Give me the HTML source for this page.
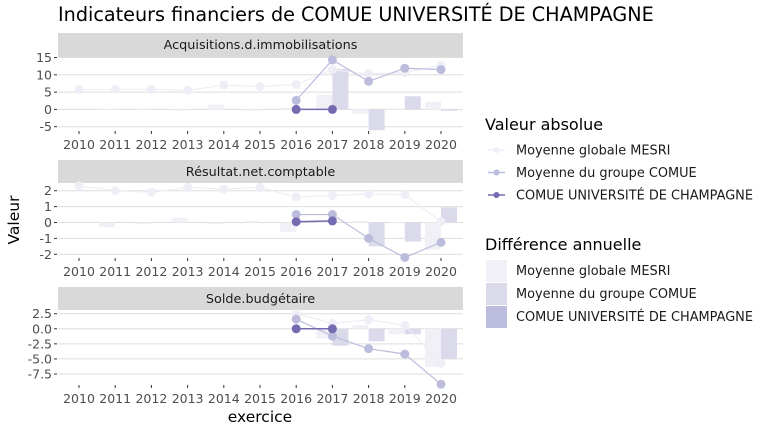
<!DOCTYPE html>
<html><head><meta charset="utf-8"><style>
body{margin:0;background:#fff}
svg{display:block;font-family:"DejaVu Sans","Liberation Sans",sans-serif}
</style></head><body>
<svg id="c" width="768" height="432" viewBox="0 0 768 432">
<text x="58" y="21" font-size="19.2" fill="#000">Indicateurs financiers de COMUE UNIVERSITÉ DE CHAMPAGNE</text>
<text x="19" y="220" font-size="15.5" transform="rotate(-90 19 220)" text-anchor="middle">Valeur</text>
<text x="260" y="422" font-size="15.5" text-anchor="middle">exercice</text>
<g id="legend">
<text x="485" y="130" font-size="16">Valeur absolue</text>
<text x="485" y="250" font-size="16">Différence annuelle</text>
</g>
</svg>
<script>
const years=[2010,2011,2012,2013,2014,2015,2016,2017,2018,2019,2020];
const panelNames=["Acquisitions.d.immobilisations","Résultat.net.comptable","Solde.budgétaire"];
const mesriAbs1=[5.7,5.8,5.8,5.5,7.0,6.6,7.2,11.5,10.3,10.6,12.8];
const groupAbs1=[null,null,null,null,null,null,2.6,14.3,8.1,11.9,11.5];
const comueAbs1=[null,null,null,null,null,null,0,0,null,null,null];
const mesriDiff1=[null,0.1,0,-0.3,1.4,-0.4,0.6,4.3,-1.2,0.3,2.2];
const groupDiff1=[null,null,null,null,null,null,null,11.7,-6.0,3.8,-0.4];
const mesriAbs2=[2.3,2.0,1.9,2.2,2.1,2.2,1.6,1.7,1.8,1.75,0.05];
const groupAbs2=[null,null,null,null,null,null,0.5,0.5,-1.0,-2.2,-1.25];
const comueAbs2=[null,null,null,null,null,null,0.05,0.1,null,null,null];
const mesriDiff2=[null,-0.3,-0.1,0.3,-0.1,0.1,-0.6,0.1,0.1,-0.05,-1.7];
const groupDiff2=[null,null,null,null,null,null,null,0,-1.5,-1.2,0.95];
const mesriAbs3=[null,null,null,null,null,null,2.5,0.9,1.5,0.6,-5.7];
const groupAbs3=[null,null,null,null,null,null,1.6,-1.2,-3.3,-4.2,-9.2];
const comueAbs3=[null,null,null,null,null,null,0,0,null,null,null];
const mesriDiff3=[null,null,null,null,null,null,null,-1.6,0.6,-0.9,-6.3];
const groupDiff3=[null,null,null,null,null,null,null,-2.8,-2.1,-0.9,-5.0];
const ticks1=[15,10,5,0,-5];
const ticks2=[2,1,0,-1,-2];
const ticks3=[2.5,0.0,-2.5,-5.0,-7.5];
const tickLabels3=["2.5","0.0","-2.5","-5.0","-7.5"];
const seriesNames=["Moyenne globale MESRI","Moyenne du groupe COMUE","COMUE UNIVERSITÉ DE CHAMPAGNE"];

const NS="http://www.w3.org/2000/svg";
const svg=document.getElementById('c');
function mk(tag,attrs,parent){const e=document.createElementNS(NS,tag);for(const k in attrs)e.setAttribute(k,attrs[k]);(parent||svg).appendChild(e);return e;}
const X0=58,X1=463;
const xs=y=>79+(y-2010)*36.2;
const lineCol=["#efedf5","#bcbddc","#756bb1"];
const barCol=["#f2f0f7","#dadaeb","#bcbddc"];
const panels=[
 {strip:33,top:57,bot:131,v0:15,p0:57.5,v1:-5,p1:126.7,ticks:ticks1,labels:ticks1.map(String),m:mesriAbs1,g:groupAbs1,c:comueAbs1,md:mesriDiff1,gd:groupDiff1},
 {strip:160,top:183,bot:258,v0:2,p0:190.7,v1:-2,p1:254.3,ticks:ticks2,labels:ticks2.map(String),m:mesriAbs2,g:groupAbs2,c:comueAbs2,md:mesriDiff2,gd:groupDiff2},
 {strip:287,top:310,bot:385,v0:2.5,p0:313.7,v1:-7.5,p1:374,ticks:ticks3,labels:tickLabels3,m:mesriAbs3,g:groupAbs3,c:comueAbs3,md:mesriDiff3,gd:groupDiff3}
];
panels.forEach((p,i)=>{
 const ys=v=>p.p0+(v-p.v0)*(p.p1-p.p0)/(p.v1-p.v0);
 const g=mk('g',{});
 
 
 const s=mk('rect',{x:X0,y:p.strip,width:X1-X0,height:p.top-p.strip,fill:'#d9d9d9'},g);
 
 
 const st=mk('text',{x:(X0+X1)/2,y:p.strip+16,'font-size':12.8,'text-anchor':'middle',fill:'#1a1a1a'},g);
 st.textContent=panelNames[i];
 
 
 p.ticks.forEach((t,k)=>{
  const y=ys(t);
  const gl=mk('line',{x1:X0,x2:X1,y1:y,y2:y,stroke:'#dedede','stroke-width':1},g);
  
  
  mk('line',{x1:X0-4,x2:X0-1,y1:y,y2:y,stroke:'#333'},g);
  const tl=mk('text',{x:X0-6,y:y+4.5,'font-size':12.5,'text-anchor':'end',fill:'#4d4d4d'},g);
  tl.textContent=p.labels[k];
  
  
 });
 years.forEach(yr=>{
  const x=xs(yr);
  mk('line',{x1:x,x2:x,y1:p.bot,y2:p.bot+3,stroke:'#333'},g);
  const tl=mk('text',{x:x,y:p.bot+18,'font-size':12.5,'text-anchor':'middle',fill:'#4d4d4d'},g);
  tl.textContent=yr;
  
  
 });
 [[p.md,0,-16],[p.gd,1,0]].forEach(([arr,ci,off])=>{
  arr.forEach((v,k)=>{
   if(v==null)return;
   const x=xs(years[k])+off,y0=ys(0),y1=ys(v);
   const r=mk('rect',{x:x,y:Math.min(y0,y1),width:16,height:Math.max(Math.abs(y1-y0),0.5),fill:barCol[ci]},g);
   
   
  });
 });
 [[p.m,0],[p.g,1],[p.c,2]].forEach(([arr,ci])=>{
  let d='';
  arr.forEach((v,k)=>{if(v==null)return;d+=(d?'L':'M')+xs(years[k])+','+ys(v);});
  const l=mk('path',{d:d,fill:'none',stroke:lineCol[ci],'stroke-width':ci==2?1.5:1.2},g);
  
  
  arr.forEach((v,k)=>{
   if(v==null)return;
   const c=mk('circle',{cx:xs(years[k]),cy:ys(v),r:4.5,fill:lineCol[ci]},g);
   
   
  });
 });
});
const lg=document.getElementById('legend');
seriesNames.forEach((n,i)=>{
 const y=150+i*22.5;
 mk('line',{x1:488,x2:505,y1:y,y2:y,stroke:lineCol[i],'stroke-width':1.5},lg);
 mk('circle',{cx:496.5,cy:y,r:3,fill:lineCol[i]},lg);
 const t=mk('text',{x:516,y:y+4.5,'font-size':12.9,fill:'#1a1a1a'},lg);
 t.textContent=n;
 
 
 const yb=260+i*23;
 const r=mk('rect',{x:486,y:yb,width:21,height:22,fill:barCol[i]},lg);
 
 
 const t2=mk('text',{x:516,y:yb+15,'font-size':12.9,fill:'#1a1a1a'},lg);
 t2.textContent=n;
 
 
});
</script>
</body></html>
